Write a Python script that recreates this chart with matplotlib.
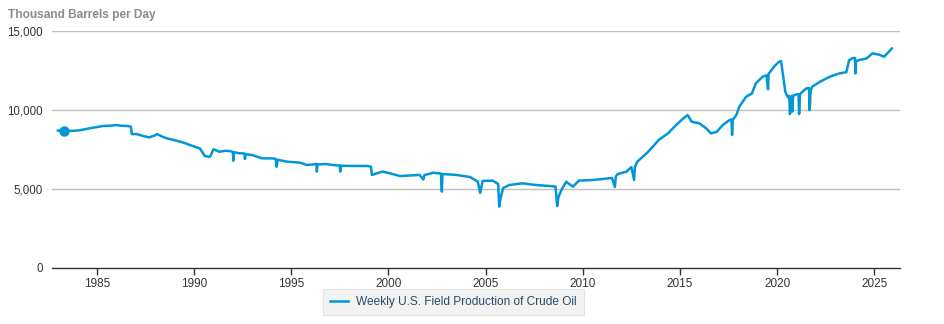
import numpy as np
from matplotlib import pyplot as plt

# weekly US field production of crude oil (year, thousand bbl/day)
years = [1983.0, 1983.3, 1983.7, 1984.0, 1984.3, 1984.6, 1985.0, 1985.3, 1985.7, 1986.0,
         1986.3, 1986.6, 1986.75, 1986.8, 1987.05, 1987.4, 1987.7, 1988.0, 1988.1, 1988.4,
         1988.6, 1989.1, 1989.5, 1989.8, 1990.1, 1990.3, 1990.5, 1990.55, 1990.8, 1990.85,
         1991.0, 1991.2, 1991.3, 1991.6, 1991.85, 1992.0, 1992.02, 1992.05, 1992.35, 1992.6,
         1992.62, 1992.65, 1993.0, 1993.5, 1994.05, 1994.2, 1994.25, 1994.3, 1994.8, 1995.45,
         1995.8, 1996.3, 1996.32, 1996.35, 1996.8, 1997.15, 1997.5, 1997.52, 1997.55, 1998.2,
         1998.9, 1999.1, 1999.15, 1999.4, 1999.7, 2000.06, 2000.2, 2000.6, 2001.0, 2001.6,
         2001.8, 2001.85, 2002.3, 2002.7, 2002.75, 2002.78, 2003.5, 2004.2, 2004.6, 2004.72,
         2004.85, 2005.36, 2005.6, 2005.65, 2005.7, 2005.75, 2005.9, 2006.2, 2006.9, 2007.6,
         2008.3, 2008.6, 2008.68, 2008.75, 2008.9, 2009.15, 2009.2, 2009.5, 2009.8, 2010.5,
         2011.0, 2011.5, 2011.65, 2011.7, 2011.8, 2012.25, 2012.5, 2012.64, 2012.68, 2012.8,
         2013.3, 2013.6, 2013.9, 2014.4, 2014.8, 2015.2, 2015.4, 2015.6, 2016.0, 2016.35,
         2016.6, 2016.9, 2017.2, 2017.55, 2017.65, 2017.68, 2017.72, 2017.9, 2018.05, 2018.4,
         2018.7, 2018.9, 2019.25, 2019.45, 2019.53, 2019.56, 2019.6, 2019.86, 2020.1, 2020.2,
         2020.42, 2020.55, 2020.62, 2020.66, 2020.7, 2020.76, 2020.78, 2020.82, 2021.0, 2021.1,
         2021.13, 2021.17, 2021.25, 2021.5, 2021.64, 2021.67, 2021.72, 2021.8, 2022.2, 2022.7,
         2023.2, 2023.56, 2023.7, 2023.9, 2024.0, 2024.03, 2024.06, 2024.2, 2024.6, 2024.9,
         2025.26, 2025.5, 2025.67, 2025.9]
prod = [8700, 8690, 8680, 8700, 8760, 8840, 8920, 8990, 9010, 9050,
        9000, 8990, 8950, 8480, 8480, 8350, 8270, 8400, 8480, 8300,
        8210, 8060, 7920, 7780, 7650, 7570, 7200, 7090, 7030, 7100,
        7510, 7420, 7360, 7420, 7400, 7350, 6790, 7330, 7260, 7250,
        6900, 7200, 7150, 6940, 6940, 6900, 6410, 6850, 6730, 6670,
        6520, 6580, 6100, 6560, 6580, 6520, 6480, 6100, 6470, 6460,
        6460, 6420, 5890, 5990, 6100, 6000, 5950, 5820, 5850, 5890,
        5600, 5880, 6030, 5980, 4830, 5950, 5890, 5760, 5460, 4750,
        5510, 5530, 5360, 5300, 3880, 4300, 5060, 5250, 5360, 5250,
        5190, 5150, 3920, 4500, 4940, 5460, 5400, 5150, 5530, 5570,
        5630, 5700, 5130, 5800, 5950, 6100, 6390, 5570, 6400, 6730,
        7280, 7680, 8100, 8540, 9050, 9500, 9680, 9260, 9160, 8840,
        8520, 8630, 9050, 9370, 9400, 8420, 9400, 9680, 10210, 10840,
        11050, 11690, 12110, 12200, 11310, 12300, 12360, 12780, 13060, 13100,
        11160, 10800, 10900, 9750, 10800, 10900, 9900, 10900, 11000, 11000,
        9750, 11000, 11100, 11370, 11400, 10000, 11200, 11480, 11790, 12110,
        12320, 12400, 13160, 13300, 13300, 12320, 13100, 13160, 13270, 13590,
        13500, 13380, 13590, 13900]

xticks = [1985, 1990, 1995, 2000, 2005, 2010, 2015, 2020, 2025]
yticks = [0, 5000, 10000, 15000]

blue = '#0096d7'
plt.rcParams['font.family'] = ['Liberation Sans', 'DejaVu Sans']

f = plt.figure(figsize=(9.44, 3.24), dpi=100)
ax = f.add_axes([0.055, 0.173, 0.898, 0.731])

ax.plot(years, prod, color=blue, lw=1.8, solid_joinstyle='round',
        label='Weekly U.S. Field Production of Crude Oil')
ax.plot([years[1]], [prod[1]], 'o', color=blue, ms=6.5)

ax.set_xlim(1982.69, 2026.3)
ax.set_ylim(0, 15000)
ax.set_xticks(xticks)
ax.set_yticks(yticks)
ax.set_yticklabels(['{:,}'.format(v) for v in yticks])
for v in yticks[1:]:
    ax.axhline(v, color='#c0c0c0', lw=1, zorder=0)

for s in ['top', 'right', 'left']:
    ax.spines[s].set_visible(False)
ax.spines['bottom'].set_color('#333333')
ax.spines['bottom'].set_linewidth(1)
ax.tick_params(axis='x', length=5, width=1, color='#333333', labelsize=8.5,
               labelcolor='#333333', pad=2)
ax.tick_params(axis='y', length=0, labelsize=8.3, labelcolor='#333333', pad=6.5)

f.text(0.009, 0.955, 'Thousand Barrels per Day', fontsize=8.6, fontweight='bold',
       color='#8a8a8a', ha='left', va='center')

leg = f.legend(loc='center', bbox_to_anchor=(0.480, 0.068), fontsize=8.6,
               frameon=True, fancybox=False, handlelength=1.5, borderpad=0.6,
               handletextpad=0.7, borderaxespad=0)
leg.get_frame().set_facecolor('#efefef')
leg.get_frame().set_edgecolor('#dddddd')
leg.get_frame().set_linewidth(0.8)
for t in leg.get_texts():
    t.set_color('#274b6d')

f.savefig('out.png', dpi=100)
